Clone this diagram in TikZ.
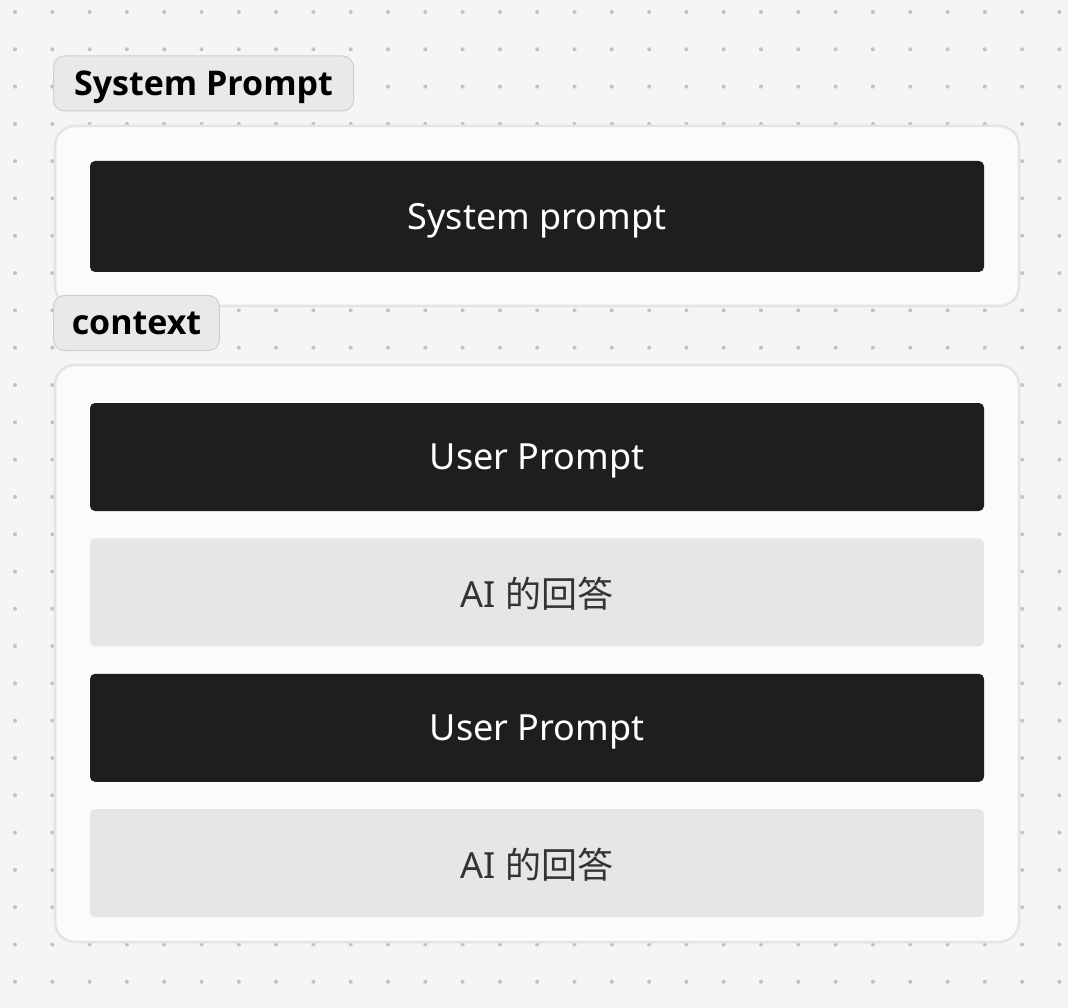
\documentclass[tikz,border=0pt]{standalone}
\usepackage{fontspec}
\setmainfont{Noto Sans}
\newfontfamily\cjk{Noto Sans CJK SC}
\newfontfamily\tabfont{Open Sans}
\usetikzlibrary{positioning}
\definecolor{bgcol}{HTML}{F5F5F5}
\definecolor{dotcol}{HTML}{C2C2C2}
\definecolor{panelfill}{HTML}{FBFBFB}
\definecolor{paneledge}{HTML}{E4E4E4}
\definecolor{darkbar}{HTML}{1E1E1E}
\definecolor{lightbar}{HTML}{E6E6E6}
\definecolor{tabfill}{HTML}{E9E9E9}
\definecolor{tabedge}{HTML}{CFCFCF}
\begin{document}
\begin{tikzpicture}[x=1pt,y=-1pt,node distance=27pt]
	\tikzstyle{panel} = [rectangle, draw=paneledge, line width=2.5pt, fill=panelfill, rounded corners=20pt, minimum width=964pt, inner sep=0pt]
	\tikzstyle{bar} = [rectangle, minimum width=894pt, minimum height=108pt, rounded corners=5pt, inner sep=0pt, text depth=0pt, font=\fontsize{36}{42}\selectfont]
	\tikzstyle{userbar} = [bar, fill=darkbar, text=white]
	\tikzstyle{aibar} = [bar, fill=lightbar, text=black!80]
	\tikzstyle{tab} = [rectangle, draw=tabedge, line width=1pt, fill=tabfill, rounded corners=11pt, minimum height=55pt, inner sep=0pt, text depth=0pt, anchor=west, font=\tabfont\bfseries\fontsize{34}{40}\selectfont]

	% background and dot grid
	\fill[bgcol] (0,0) rectangle (1068,1008);
	\useasboundingbox (0,0) rectangle (1068,1008);
	\foreach \i in {0,...,28}
		\foreach \j in {0,...,26}
			\fill[dotcol] (15+37.3*\i, 12+37.3*\j) circle (2pt);

	% panels
	\node[panel, minimum height=180pt] (syspanel) at (537,216) {};
	\node[panel, minimum height=577pt] (ctxpanel) at (537,653.5) {};

	% system block
	\node[userbar, minimum height=111pt] (sysbar) at (537,216.5) {System prompt};

	% context blocks
	\node[userbar] (user1) at (537,457) {User Prompt};
	\node[aibar, below=of user1] (ai1) {AI {\cjk 的回答}};
	\node[userbar, below=of ai1] (user2) {User Prompt};
	\node[aibar, below=of user2] (ai2) {AI {\cjk 的回答}};

	% tabs
	\node[tab, minimum width=300pt] (systab) at (53,83.5) {System Prompt};
	\node[tab, minimum width=166pt] (ctxtab) at (53,323) {context};
\end{tikzpicture}
\end{document}
